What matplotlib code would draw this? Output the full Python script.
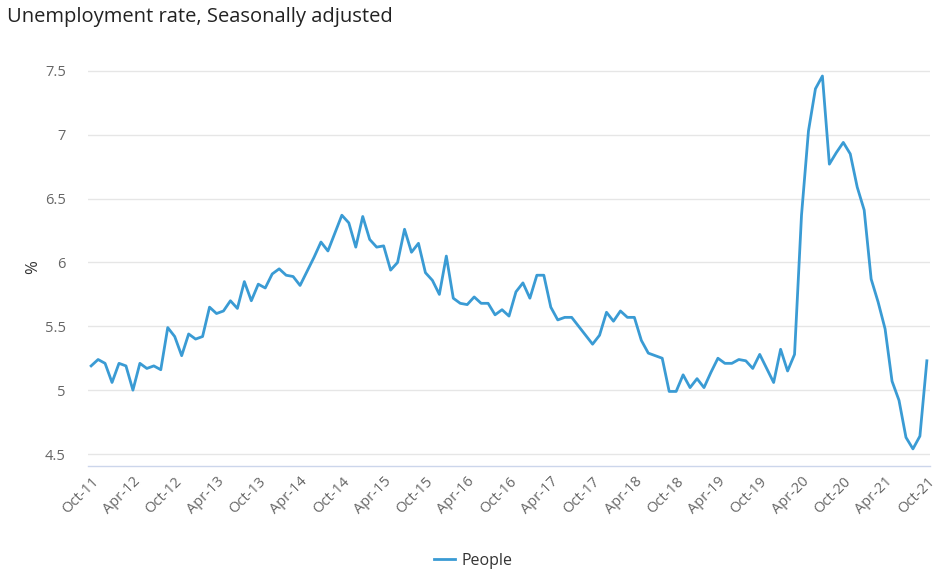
import numpy as np
import pandas as pd
import matplotlib
matplotlib.use("Agg")
import matplotlib.pyplot as plt

# monthly unemployment rate, Oct-2011 .. Oct-2021
months = pd.date_range("2011-10-01", "2021-10-01", freq="MS")
rate = [
    5.19, 5.24, 5.21, 5.06, 5.21, 5.19, 5.00, 5.21, 5.17, 5.19, 5.16, 5.49,
    5.42, 5.27, 5.44, 5.40, 5.42, 5.65, 5.60, 5.62, 5.70, 5.64, 5.85, 5.70,
    5.83, 5.80, 5.91, 5.95, 5.90, 5.89, 5.82, 5.93, 6.04, 6.16, 6.09, 6.23,
    6.37, 6.31, 6.12, 6.36, 6.18, 6.12, 6.13, 5.94, 6.00, 6.26, 6.08, 6.15,
    5.92, 5.86, 5.75, 6.05, 5.72, 5.68, 5.67, 5.73, 5.68, 5.68, 5.59, 5.63,
    5.58, 5.77, 5.84, 5.72, 5.90, 5.90, 5.65, 5.55, 5.57, 5.57, 5.50, 5.43,
    5.36, 5.43, 5.61, 5.54, 5.62, 5.57, 5.57, 5.39, 5.29, 5.27, 5.25, 4.99,
    4.99, 5.12, 5.02, 5.09, 5.02, 5.14, 5.25, 5.21, 5.21, 5.24, 5.23, 5.17,
    5.28, 5.17, 5.06, 5.32, 5.15, 5.28, 6.37, 7.03, 7.36, 7.46, 6.77, 6.86,
    6.94, 6.85, 6.59, 6.41, 5.87, 5.69, 5.48, 5.07, 4.92, 4.63, 4.54, 4.64,
    5.23,
]
labels = [m.strftime("%b-%y") for m in months]
yticks = [4.5, 5, 5.5, 6, 6.5, 7, 7.5]

plt.rcParams['font.family'] = ['Open Sans', 'DejaVu Sans']

fig = plt.figure(figsize=(9.52, 5.81), dpi=100)
ax = fig.add_axes([88/952, 1-466/581, (930-88)/952, (466-69)/581])

x = np.arange(len(rate))
ax.plot(x, rate, color="#3a9bd4", lw=2.0, label="People", solid_joinstyle="round")

ax.set_xlim(-0.45, len(rate) - 0.55)
ax.set_ylim(4.5 - 12/127.7, 7.515)
ax.set_yticks(yticks)
ax.set_yticklabels([f"{v:g}" for v in yticks], fontsize=10.5, color="#666666")
ax.set_xticks(x[::6])
ax.set_xticklabels(labels[::6], rotation=45, ha="right", va="top",
                   rotation_mode="anchor", fontsize=10.5, color="#666666")
ax.tick_params(axis="y", length=0, pad=16)
ax.tick_params(axis="x", length=0, pad=6)
ax.grid(axis="y", color="#e6e6e6", lw=1)
ax.set_axisbelow(True)
for s in ["top", "right", "left"]:
    ax.spines[s].set_visible(False)
ax.spines["bottom"].set_color("#ccd6eb")
ax.spines["bottom"].set_linewidth(1)

ax.set_ylabel("%", fontsize=12, color="#333333")
ax.yaxis.set_label_coords((41 - 88) / 842, 0.5)

fig.text(7/952, 1-17/581, "Unemployment rate, Seasonally adjusted",
         fontsize=14.5, color="#222222", va="center", ha="left")

fig.legend(loc="center", bbox_to_anchor=(473/952, 1-561/581), frameon=False,
           fontsize=11.5, handlelength=1.3, handletextpad=0.4,
           labelcolor="#333333")

fig.savefig("out.png", dpi=100)
